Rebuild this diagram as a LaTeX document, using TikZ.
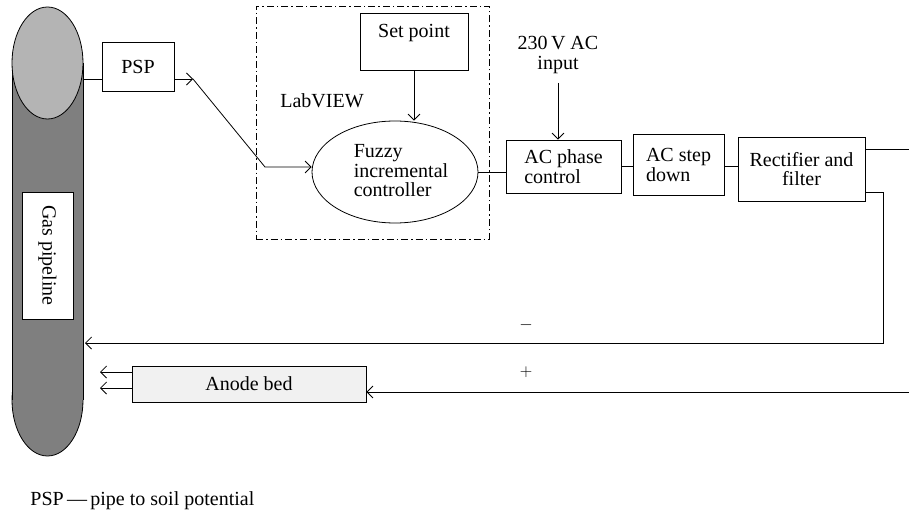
\documentclass[tikz,border=0pt]{standalone}
\usepackage{fontspec}
\setmainfont{Liberation Serif}
\usetikzlibrary{arrows.meta,shapes.geometric}
\definecolor{pipedark}{HTML}{7F7F7F}
\definecolor{pipelight}{HTML}{B4B4B4}
\definecolor{anodefill}{HTML}{F1F1F1}
\begin{document}
\begin{tikzpicture}[x=1pt,y=-1pt, line width=0.8pt,
  every node/.style={font=\fontsize{20}{19.5}\selectfont},
  box/.style={draw, inner sep=0pt, align=left},
  arr/.style={-{Straight Barb[length=6pt,width=12pt]}},
  dashdot/.style={dash pattern=on 7pt off 3pt on 1.5pt off 3pt},
]
\useasboundingbox (0,0) rectangle (909,513);

% gas pipeline body
\filldraw[fill=pipedark] (47.5,400) ellipse [x radius=35.5pt, y radius=56pt];
\fill[pipedark] (12,63) rectangle (83,400);
\draw (12,63) -- (12,400) (83,63) -- (83,400);
\filldraw[fill=pipelight] (47.5,63) ellipse [x radius=35.5pt, y radius=56pt];
\node[box, fill=white, rotate=-90, minimum width=127pt, minimum height=51pt, align=center] (gas) at (47.5,255.5) {Gas pipeline};

% PSP
\node[box, minimum width=72pt, minimum height=49pt, align=center] (psp) at (138,66.5) {PSP};

% LabVIEW frame
\node[draw, dashdot, inner sep=0pt, minimum width=233pt, minimum height=233pt] (lab) at (372.5,122.5) {};
\node (labtxt) at (322,101) {LabVIEW};
\node[draw, inner sep=0pt, minimum width=108pt, text height=25pt, text depth=32pt, align=center] (sp) at (414,41.5) {Set point};
\node[draw, ellipse, minimum width=166pt, minimum height=102pt, inner sep=0pt] (fuzzy) at (395,172) {};
\node[align=left, inner sep=0pt] (fuzzytxt) at (401,171) {Fuzzy\\incremental\\controller};

% power chain
\node[align=center, inner sep=0pt] (input) at (558,55) {230\,V AC\\input};
\node[box, minimum width=115pt, minimum height=53pt] (acp) at (563.5,166.5) {AC phase\\control};
\node[box, minimum width=91pt, minimum height=61pt] (step) at (678.5,165) {AC step\\down};
\node[box, minimum width=127pt, minimum height=64pt, align=center] (rect) at (801.5,169) {Rectifier and\\filter};

% anode bed
\node[box, fill=anodefill, minimum width=234pt, minimum height=36pt, align=center] (anode) at (249,384) {Anode bed};

% coordinates
\coordinate (pipeR1) at (83,79);
\coordinate (k1) at (193,79);
\coordinate (k2) at (265,167);
\coordinate (inA) at (558,83);
\coordinate (R1) at (909,149);
\coordinate (c1) at (883,192);
\coordinate (pipeR2) at (85,343);
\coordinate (R2) at (909,392);
\coordinate (t1) at (100,372);
\coordinate (t2) at (100,388);

% connectors
\draw (pipeR1) -- (pipeR1 -| psp.west);
\draw[arr] (psp.east |- k1) -- (k1);
\draw[arr] (k1) -- (k2) -- (k2 -| fuzzy.west);
\draw[arr] (sp.south) -- (sp.south |- fuzzy.north);
\draw (fuzzy.east) -- (fuzzy.east -| acp.west);
\draw[arr] (inA) -- (inA |- acp.north);
\draw (acp.east) -- (acp.east -| step.west);
\draw (step.east |- acp.east) -- (acp.east -| rect.west);
\draw (R1 -| rect.east) -- (R1);
\draw[arr] (c1 -| rect.east) -- (c1) -- (c1 |- pipeR2) -- (pipeR2);
\draw[arr] (R2) -- (R2 -| anode.east);
\draw[arr] (t1 -| anode.west) -- (t1);
\draw[arr] (t2 -| anode.west) -- (t2);

\node[font=\fontsize{16}{16}\selectfont] (minus) at (526,325) {$-$};
\node[font=\fontsize{16}{16}\selectfont] (plus) at (526,372) {$+$};

% caption
\node[anchor=base west, inner sep=0pt] (cap) at (30,505) {PSP\,\textemdash\,pipe to soil potential};
\end{tikzpicture}
\end{document}
